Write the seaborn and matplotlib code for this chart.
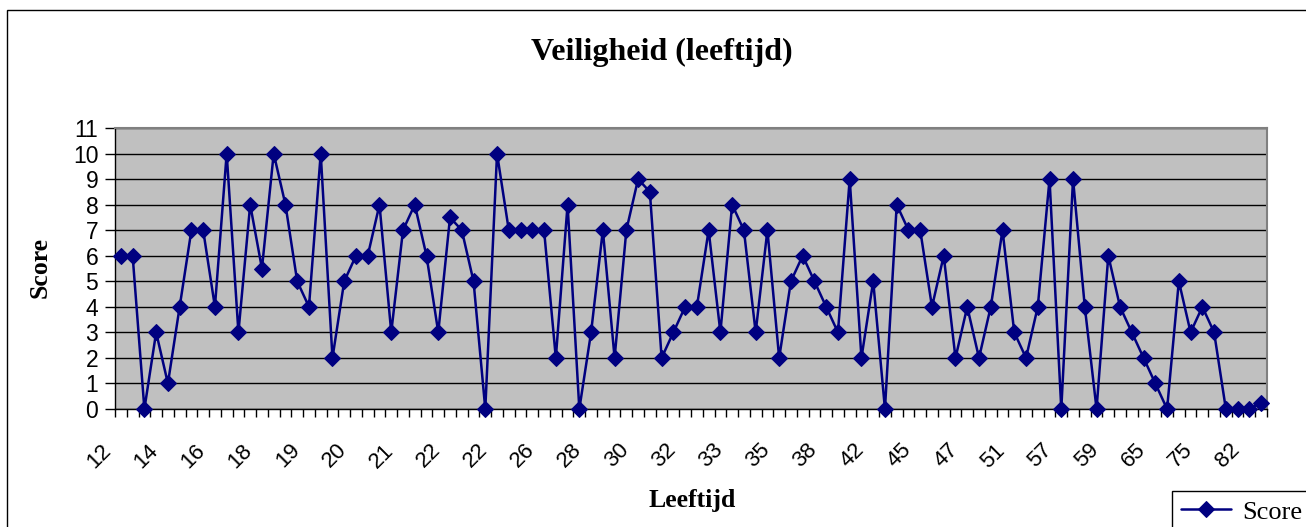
import numpy as np
import pandas as pd
import matplotlib.pyplot as plt
import matplotlib.transforms as mtransforms
import seaborn as sns
from matplotlib.patches import Rectangle

# scores per respondent, in the order of the sheet
scores = [6, 6, 0, 3, 1, 4, 7, 7, 4, 10, 3, 8, 5.5, 10, 8, 5, 4, 10, 2, 5,
          6, 6, 8, 3, 7, 8, 6, 3, 7.5, 7, 5, 0, 10, 7, 7, 7, 7, 2, 8, 0,
          3, 7, 2, 7, 9, 8.5, 2, 3, 4, 4, 7, 3, 8, 7, 3, 7, 2, 5, 6, 5,
          4, 3, 9, 2, 5, 0, 8, 7, 7, 4, 6, 2, 4, 2, 4, 7, 3, 2, 4, 9,
          0, 9, 4, 0, 6, 4, 3, 2, 1, 0, 5, 3, 4, 3, 0, 0, 0, 0.25]
# age shown under every 4th category
age_labels = ['12', '14', '16', '18', '19', '20', '21', '22', '22', '26', '28', '30', '32',
              '33', '35', '38', '42', '45', '47', '51', '57', '59', '65', '75', '82']
label_step = 4

sns.set_theme(style='white')
plt.rcParams['font.family'] = ['Liberation Sans', 'DejaVu Sans']
plt.rcParams['text.color'] = 'black'
plt.rcParams['xtick.color'] = 'black'
plt.rcParams['ytick.color'] = 'black'
serif = ['Liberation Serif', 'DejaVu Serif']

W, H = 1306, 527
fig = plt.figure(figsize=(W / 100, H / 100), dpi=100)
ax = fig.add_axes([115 / W, 1 - 409 / H, 1152 / W, 281 / H])

df = pd.DataFrame({'pos': np.arange(len(scores)), 'Score': scores})
sns.lineplot(data=df, x='pos', y='Score', ax=ax, color='#000080', lw=1.8,
             marker='D', markersize=8, markeredgecolor='#000080', clip_on=False,
             label='Score', zorder=5)

ax.set_facecolor('#C0C0C0')
ax.set_xlim(-0.5, len(scores) - 0.5)
ax.set_ylim(0, 11)
ax.set_yticks(range(12))
ax.yaxis.grid(True, color='black', lw=1)
ax.xaxis.grid(False)

ax.set_xticks(np.arange(0, len(scores), label_step))
ax.set_xticklabels(age_labels, rotation=45, ha='right', rotation_mode='anchor')
ax.set_xticks(np.arange(-0.5, len(scores)), minor=True)
ax.tick_params(axis='x', which='major', length=0, labelsize=16, pad=12)
ax.tick_params(axis='x', which='minor', length=6, width=1, color='black',
               direction='out', bottom=True)
ax.tick_params(axis='y', length=7, width=1, color='black', direction='out',
               left=True, labelsize=16.5, pad=5)
shift = mtransforms.ScaledTranslation(-20 / 100, -14 / 100, fig.dpi_scale_trans)
for lab in ax.get_xticklabels():
    lab.set_transform(lab.get_transform() + shift)

for side in ['left', 'bottom']:
    ax.spines[side].set_color('black')
    ax.spines[side].set_linewidth(1)
for side in ['top', 'right']:
    ax.spines[side].set_color('#808080')
    ax.spines[side].set_linewidth(1.5)

ax.set_xlabel('')
ax.set_ylabel('')
ax.get_legend().remove()

fig.text(662 / W, 1 - 52 / H, 'Veiligheid (leeftijd)', ha='center', va='center',
         fontsize=23, fontweight='bold', family=serif, color='black')
fig.text(692 / W, 1 - 500 / H, 'Leeftijd', ha='center', va='center',
         fontsize=18.5, fontweight='bold', family=serif, color='black')
fig.text(40 / W, 1 - 268 / H, 'Score', ha='center', va='center', rotation=90,
         fontsize=18.5, fontweight='bold', family=serif, color='black')

handles, labels = ax.get_legend_handles_labels()
leg = fig.legend(handles, labels, loc='upper left',
                 bbox_to_anchor=(1172 / W, 1 - 491 / H), borderaxespad=0,
                 frameon=True, fancybox=False, edgecolor='black', framealpha=1,
                 handlelength=1.9, handletextpad=0.4, borderpad=0.35,
                 prop={'family': serif, 'size': 19})
leg.get_frame().set_linewidth(1)

# chart area border, cut off at the right and bottom edges
fig.patches.append(Rectangle((7 / W, -0.1), 1.2, 1 - 10 / H + 0.1,
                             transform=fig.transFigure, fill=False,
                             ec='black', lw=1))

fig.savefig('out.png', dpi=100, facecolor='white')
